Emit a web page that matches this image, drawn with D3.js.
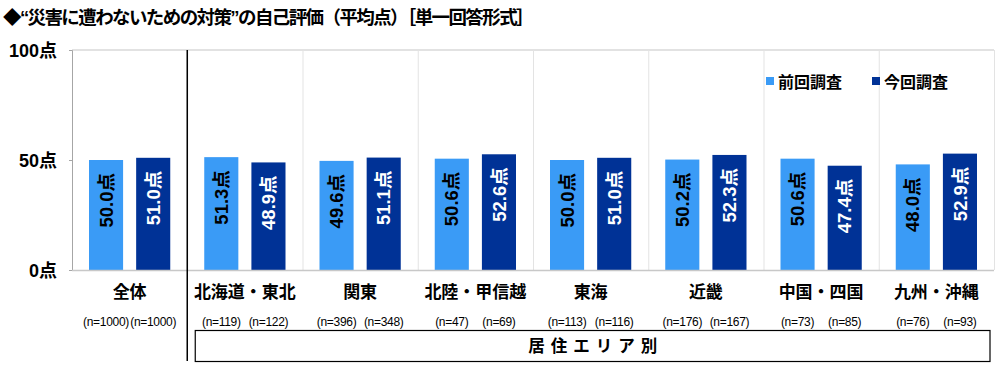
<!DOCTYPE html>
<html><head><meta charset="utf-8">
<script src="https://cdn.jsdelivr.net/npm/d3@7"></script>
<style>
body{margin:0;background:#fff;}
text{font-family:"Liberation Sans","Noto Sans CJK JP",sans-serif;}
</style></head>
<body><svg id="c" width="1000" height="366"></svg>
<script>
const categories = ["全体","北海道・東北","関東","北陸・甲信越","東海","近畿","中国・四国","九州・沖縄"];
const seriesNames = ["前回調査","今回調査"];
const prevValues = [50.0,51.3,49.6,50.6,50.0,50.2,50.6,48.0];
const currValues = [51.0,48.9,51.1,52.6,51.0,52.3,47.4,52.9];
const prevN = [1000,119,396,47,113,176,73,76];
const currN = [1000,122,348,69,116,167,85,93];
const yTicks = [0,50,100];
const colors = ["#3a9bf6","#003296"];

const svg = d3.select("#c");
const L=72, R=994, T=50, B=270;
const x0 = d3.scaleBand().domain(categories).range([L,R]).padding(0);
const x1 = d3.scaleBand().domain(seriesNames).range([17, x0.bandwidth()-17]).paddingInner(0.277).paddingOuter(0);
const y = d3.scaleLinear().domain([0,100]).range([B,T]);

// title
svg.append("text").attr("x",3).attr("y",24).attr("font-size",18.5).attr("font-weight","bold")
  .attr("letter-spacing","-1.6px")
  .attr("font-family","'Noto Sans CJK JP',sans-serif")
  .text("◆“災害に遭わないための対策”の自己評価（平均点）［単一回答形式］");

// grid: top line and vertical separators
svg.append("line").attr("x1",L).attr("x2",R).attr("y1",y(100)).attr("y2",y(100)).attr("stroke","#d9d9d9").attr("stroke-width",1.5);
categories.slice(1).forEach(c=>{
  svg.append("line").attr("x1",x0(c)+0.5).attr("x2",x0(c)+0.5).attr("y1",T).attr("y2",B).attr("stroke","#e3e3e3");
});
svg.append("line").attr("x1",R+0.5).attr("x2",R+0.5).attr("y1",T).attr("y2",B).attr("stroke","#e3e3e3");

// y axis
const yAxis = d3.axisLeft(y).tickValues(yTicks).tickSize(3).tickFormat(d=>d+"点");
const ga = svg.append("g").attr("transform",`translate(${L},0)`).call(yAxis);
ga.select(".domain").attr("stroke","#a6a6a6");
ga.selectAll(".tick line").attr("stroke","#a6a6a6");
ga.selectAll(".tick text").attr("font-size",18).attr("font-weight","bold").attr("fill","#000")
  .attr("x",-15).attr("dy","0.35em");

// bars
const data = categories.map((c,i)=>({c, vals:[{s:seriesNames[0],v:prevValues[i],n:prevN[i]},{s:seriesNames[1],v:currValues[i],n:currN[i]}]}));
const g = svg.selectAll("g.grp").data(data).join("g").attr("class","grp").attr("transform",d=>`translate(${x0(d.c)},0)`);
g.selectAll("rect").data(d=>d.vals).join("rect")
  .attr("x",d=>x1(d.s)).attr("width",x1.bandwidth())
  .attr("y",d=>y(d.v)).attr("height",d=>y(0)-y(d.v))
  .attr("fill",(d,i)=>colors[i]);
g.selectAll("text.val").data(d=>d.vals).join("text").attr("class","val")
  .attr("transform",d=>`translate(${x1(d.s)+x1.bandwidth()/2},${y(d.v)+13}) rotate(-90)`)
  .attr("text-anchor","end").attr("dy","0.36em")
  .attr("font-size",18.5).attr("font-weight","bold")
  .attr("fill",(d,i)=>i===0?"#000":"#fff")
  .text(d=>d.v.toFixed(1)+"点");
// n labels
g.selectAll("text.n").data(d=>d.vals).join("text").attr("class","n")
  .attr("x",d=>x1(d.s)+x1.bandwidth()/2).attr("y",326)
  .attr("text-anchor","middle").attr("font-size",12).attr("letter-spacing","-0.3px").attr("fill","#000")
  .text(d=>"(n="+d.n+")");

// x axis baseline
svg.append("line").attr("x1",L).attr("x2",R).attr("y1",B+0.5).attr("y2",B+0.5).attr("stroke","#c8c8c8").attr("stroke-width",1.5);

// category labels
svg.selectAll("text.cat").data(categories).join("text").attr("class","cat")
  .attr("x",d=>x0(d)+x0.bandwidth()/2).attr("y",298)
  .attr("text-anchor","middle").attr("font-size",17).attr("font-weight","bold")
  .attr("font-family","'Noto Sans CJK JP',sans-serif")
  .text(d=>d);

// black separator after 全体
svg.append("line").attr("x1",x0(categories[1])).attr("x2",x0(categories[1])).attr("y1",T).attr("y2",361).attr("stroke","#000").attr("stroke-width",1.5);

// region box
const bx0 = x0(categories[1])+8, bx1 = 990;
svg.append("rect").attr("x",bx0).attr("y",330.5).attr("width",bx1-bx0).attr("height",31).attr("fill","none").attr("stroke","#000").attr("stroke-width",1.2);
svg.append("text").attr("x",(bx0+bx1)/2+3).attr("y",352).attr("text-anchor","middle")
  .attr("font-size",16.5).attr("font-weight","bold").attr("letter-spacing","6px")
  .attr("font-family","'Noto Sans CJK JP',sans-serif")
  .text("居住エリア別");

// legend
const lg = svg.append("g").attr("transform","translate(766,82)");
seriesNames.forEach((s,i)=>{
  const gx = i*106;
  lg.append("rect").attr("x",gx).attr("y",-5).attr("width",8).attr("height",8).attr("fill",colors[i]);
  lg.append("text").attr("x",gx+12).attr("y",0).attr("dy","0.36em").attr("font-size",16).attr("font-weight","bold")
    .attr("font-family","'Noto Sans CJK JP',sans-serif").text(s);
});
</script></body></html>
